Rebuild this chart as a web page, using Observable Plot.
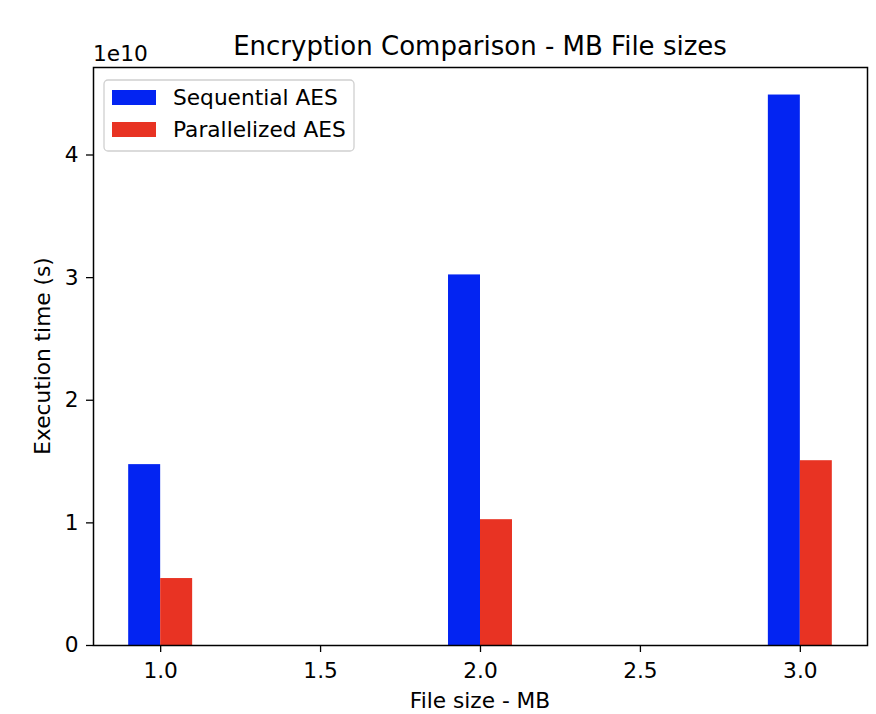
<!DOCTYPE html>
<html>
<head>
<meta charset="utf-8">
<script src="https://cdn.jsdelivr.net/npm/d3@7"></script>
<script src="https://cdn.jsdelivr.net/npm/@observablehq/plot@0.6"></script>
<style>
  html, body { margin: 0; padding: 0; background: #fff; }
  #chart { position: relative; width: 876px; height: 714px; }
</style>
</head>
<body>
<div id="chart"></div>
<script>
// ---- data ----
const fileSizes = [1.0, 2.0, 3.0];
const sequentialAES = [1.475e10, 3.022e10, 4.489e10];
const parallelAES = [0.546e10, 1.026e10, 1.507e10];
const seriesNames = ["Sequential AES", "Parallelized AES"];
const seriesColors = ["#0324F2", "#E83323"];
const xTicks = [1.0, 1.5, 2.0, 2.5, 3.0];
const yTicks = [0, 1e10, 2e10, 3e10, 4e10];
const barWidth = 0.1;

const rows = [];
fileSizes.forEach((s, i) => {
  rows.push({series: seriesNames[0], x1: s - barWidth, x2: s, y: sequentialAES[i]});
  rows.push({series: seriesNames[1], x1: s, x2: s + barWidth, y: parallelAES[i]});
});

const font = "DejaVu Sans, Liberation Sans, sans-serif";
const W = 876, H = 714;
const mL = 93, mR = 9, mT = 67, mB = 69;
const fs = 21.7;

const plot = Plot.plot({
  width: W,
  height: H,
  marginLeft: mL,
  marginRight: mR,
  marginTop: mT,
  marginBottom: mB,
  style: {fontFamily: font, fontSize: fs + "px", color: "#000", background: "#fff", overflow: "visible"},
  x: {domain: [0.79, 3.21], ticks: xTicks, tickFormat: d => d.toFixed(1), label: null},
  y: {domain: [0, 4.7135e10], ticks: yTicks, tickFormat: d => String(Math.round(d / 1e10)), label: null},
  color: {domain: seriesNames, range: seriesColors},
  marks: [
    Plot.rectY(rows, {x1: "x1", x2: "x2", y1: 0, y2: "y", fill: "series", inset: 0}),
    Plot.axisX({ticks: xTicks, tickFormat: d => d.toFixed(1), tickSize: 7, tickPadding: 10, fontSize: fs, stroke: "#000", strokeWidth: 1.3, strokeOpacity: 1}),
    Plot.axisY({ticks: yTicks, tickFormat: d => String(Math.round(d / 1e10)), tickSize: 7, tickPadding: 8, fontSize: fs, stroke: "#000", strokeWidth: 1.3, strokeOpacity: 1}),
    Plot.frame({stroke: "#000", strokeWidth: 1.5})
  ]
});

document.getElementById("chart").appendChild(plot);

const svg = d3.select(plot);
const cx = mL + (W - mL - mR) / 2;

// title
svg.append("text").attr("x", cx).attr("y", 55).attr("text-anchor", "middle")
  .attr("font-family", font).attr("font-size", 26).attr("fill", "#000")
  .text("Encryption Comparison - MB File sizes");
// offset text
svg.append("text").attr("x", 93).attr("y", 61).attr("text-anchor", "start")
  .attr("font-family", font).attr("font-size", fs).attr("fill", "#000")
  .text("1e10");
// x label
svg.append("text").attr("x", cx).attr("y", 708).attr("text-anchor", "middle")
  .attr("font-family", font).attr("font-size", fs).attr("fill", "#000")
  .text("File size - MB");
// y label
svg.append("text").attr("transform", `translate(50, ${mT + (H - mT - mB) / 2}) rotate(-90)`)
  .attr("text-anchor", "middle")
  .attr("font-family", font).attr("font-size", fs).attr("fill", "#000")
  .text("Execution time (s)");

// legend
const lg = svg.append("g");
lg.append("rect").attr("x", 104).attr("y", 80).attr("width", 250).attr("height", 71)
  .attr("rx", 4).attr("fill", "#fff").attr("fill-opacity", 0.8)
  .attr("stroke", "#d0d0d0").attr("stroke-width", 1.3);
seriesNames.forEach((name, i) => {
  const y0 = 90 + i * 32;
  lg.append("rect").attr("x", 112).attr("y", y0).attr("width", 44).attr("height", 15)
    .attr("fill", seriesColors[i]);
  lg.append("text").attr("x", 173).attr("y", y0 + 15).attr("text-anchor", "start")
    .attr("font-family", font)
    .attr("font-size", fs).attr("fill", "#000").text(name);
});
</script>
</body>
</html>
